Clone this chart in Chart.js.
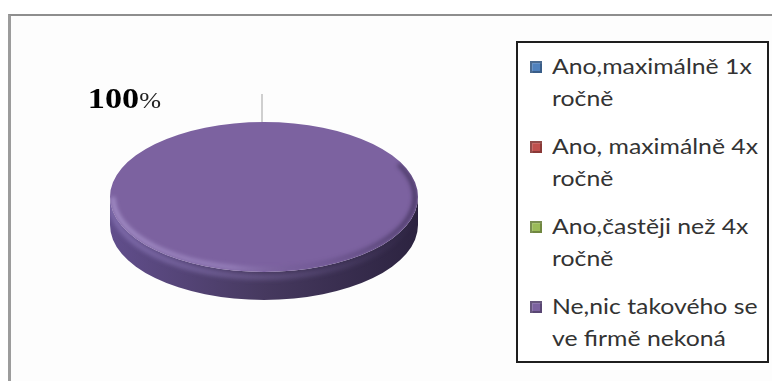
<!DOCTYPE html>
<html>
<head>
<meta charset="utf-8">
<script src="https://cdn.jsdelivr.net/npm/chart.js@4/dist/chart.umd.min.js"></script>
<style>
  html, body { margin: 0; padding: 0; background: #ffffff; }
  #wrap { position: relative; width: 772px; height: 381px; overflow: hidden; }
  #frame {
    position: absolute; left: 8px; top: 14px; right: -10px; bottom: -10px;
    border-left: 3px solid #9c9c9c; border-top: 2px solid #8e8e8e;
    background: #fdfdfd;
  }
  #chart { position: absolute; left: 0; top: 0; }
  #legend {
    position: absolute; left: 516px; top: 41px; width: 249px; height: 318px;
    border: 2px solid #1e1e1e; background: #ffffff;
    font-family: Lato, "Open Sans", sans-serif; font-size: 21px; color: #333333;
  }
  .item { position: absolute; left: 0; width: 249px; }
  .swatch {
    position: absolute; left: 12px; top: 18px; width: 12px; height: 12px;
    box-sizing: border-box;
  }
  .label {
    position: absolute; left: 34px; top: 7px; width: 178px; line-height: 32px;
    transform: scaleX(1.18); transform-origin: 0 0;
  }
</style>
</head>
<body>
<div id="wrap">
  <div id="frame"></div>
  <canvas id="chart" width="772" height="381"></canvas>
  <div id="legend"></div>
</div>
<script>
// Survey answers and their shares (percent)
const categories = [
  'Ano,maximálně 1x ročně',
  'Ano, maximálně 4x ročně',
  'Ano,častěji než 4x ročně',
  'Ne,nic takového se ve firmě nekoná'
];
const shares = [0, 0, 0, 100];
const sliceColors = ['#4f81bd', '#c0504d', '#9bbb59', '#7c62a0'];
const sideColors = [
  ['#3d6591', '#2a4563', '#1d3147'],
  ['#933b39', '#6a2a29', '#4a1d1d'],
  ['#779045', '#566831', '#3c4922'],
  ['#614e8c', '#46395f', '#2c2340']
];

// Perspective of the tilted disc
const TILT = 0.487;     // vertical squash of the top face
const DEPTH = 28;       // thickness of the disc in px
const CENTER = { x: 264, y: 197 };

// Legend box (HTML)
const legendEl = document.getElementById('legend');
categories.forEach((name, i) => {
  const item = document.createElement('div');
  item.className = 'item';
  item.style.top = (80 * i) + 'px';
  const sw = document.createElement('div');
  sw.className = 'swatch';
  sw.style.background = sliceColors[i];
  sw.style.boxShadow = 'inset 0 0 0 2px rgba(0,0,0,0.28), inset 2px 2px 0 1px rgba(255,255,255,0.15)';
  const lb = document.createElement('div');
  lb.className = 'label';
  lb.textContent = name;
  item.appendChild(sw);
  item.appendChild(lb);
  legendEl.appendChild(item);
});

function visibleSide(start, end) {
  // part of [start,end] that lies on the front (angles 0..PI, modulo 2PI)
  const spans = [];
  for (let k = -1; k <= 1; k++) {
    const a = Math.max(start, k * 2 * Math.PI);
    const b = Math.min(end, k * 2 * Math.PI + Math.PI);
    if (b > a) spans.push([a, b]);
  }
  return spans;
}

const tiltPlugin = {
  id: 'tilt',
  beforeDatasetsDraw(chart) {
    const ctx = chart.ctx;
    const meta = chart.getDatasetMeta(0);
    meta.data.forEach((arc, i) => {
      const p = arc.getProps(['x', 'y', 'startAngle', 'endAngle', 'outerRadius']);
      if (p.endAngle - p.startAngle <= 0) return;
      const R = p.outerRadius, ry = R * TILT;
      const g = ctx.createLinearGradient(CENTER.x - R, 0, CENTER.x + R, 0);
      g.addColorStop(0, sideColors[i][0]);
      g.addColorStop(0.5, sideColors[i][1]);
      g.addColorStop(1, sideColors[i][2]);
      visibleSide(p.startAngle, p.endAngle).forEach(([a, b]) => {
        ctx.save();
        ctx.beginPath();
        ctx.ellipse(CENTER.x, CENTER.y, R, ry, 0, a, b, false);
        ctx.ellipse(CENTER.x, CENTER.y + DEPTH, R, ry, 0, b, a, true);
        ctx.closePath();
        ctx.fillStyle = g;
        ctx.fill();
        ctx.clip();
        // soft light band just below the rim
        const hl = ctx.createLinearGradient(CENTER.x - R, 0, CENTER.x + R, 0);
        hl.addColorStop(0, 'rgba(150,130,195,0.55)');
        hl.addColorStop(0.45, 'rgba(150,130,195,0.35)');
        hl.addColorStop(1, 'rgba(150,130,195,0)');
        ctx.filter = 'blur(2px)';
        ctx.beginPath();
        ctx.ellipse(CENTER.x, CENTER.y + 5, R - 1, ry, 0, a, b, false);
        ctx.strokeStyle = hl;
        ctx.lineWidth = 6;
        ctx.stroke();
        ctx.restore();
      });
    });
    // squash the top face into an ellipse
    const first = meta.data[0];
    ctx.save();
    ctx.translate(CENTER.x, CENTER.y);
    ctx.scale(1, TILT);
    ctx.translate(-first.x, -first.y);
  },
  afterDatasetsDraw(chart) {
    const ctx = chart.ctx;
    ctx.restore();
    const meta = chart.getDatasetMeta(0);
    const data = chart.data.datasets[0].data;
    const total = data.reduce((s, v) => s + v, 0);
    meta.data.forEach((arc, i) => {
      const p = arc.getProps(['startAngle', 'endAngle', 'outerRadius']);
      const span = p.endAngle - p.startAngle;
      if (span <= 0) return;
      const R = p.outerRadius, ry = R * TILT;
      // bevel along the front edge of the top face
      ctx.save();
      ctx.beginPath();
      ctx.ellipse(CENTER.x, CENTER.y, R, ry, 0, 0, 2 * Math.PI);
      ctx.clip();
      const rim = ctx.createLinearGradient(CENTER.x - R, 0, CENTER.x + R, 0);
      rim.addColorStop(0, 'rgba(205,190,240,0.55)');
      rim.addColorStop(0.4, 'rgba(205,190,240,0.35)');
      rim.addColorStop(0.65, 'rgba(60,45,90,0.15)');
      rim.addColorStop(1, 'rgba(30,20,50,0.6)');
      ctx.filter = 'blur(2px)';
      ctx.beginPath();
      ctx.ellipse(CENTER.x, CENTER.y, R - 3, ry - 3, 0, -Math.PI * 0.15, Math.PI * 1.0, false);
      ctx.strokeStyle = rim;
      ctx.lineWidth = 4;
      ctx.stroke();
      ctx.restore();

      // percentage label with leader line
      const ang = span >= 2 * Math.PI - 1e-6 ? p.startAngle : (p.startAngle + p.endAngle) / 2;
      const ax = CENTER.x + R * Math.cos(ang) - 2;
      const ay = CENTER.y + ry * Math.sin(ang);
      ctx.save();
      ctx.strokeStyle = '#cfcfcf';
      ctx.lineWidth = 2;
      ctx.beginPath();
      ctx.moveTo(ax, ay);
      ctx.lineTo(ax, ay - 28);
      ctx.stroke();
      const pct = Math.round(data[i] / total * 100);
      const num = String(pct);
      const sx = 1.14;
      ctx.font = 'bold 30px "Liberation Serif", serif';
      const wNum = ctx.measureText(num).width * sx;
      ctx.font = '23px "Liberation Serif", serif';
      const wPct = ctx.measureText('%').width * sx;
      const right = ax - 101;
      ctx.textBaseline = 'alphabetic';
      ctx.textAlign = 'left';
      ctx.translate(right - wPct - wNum, ay - 14);
      ctx.scale(sx, 1);
      ctx.fillStyle = '#000000';
      ctx.font = 'bold 30px "Liberation Serif", serif';
      ctx.fillText(num, 0, 0);
      ctx.fillStyle = '#222222';
      ctx.font = '23px "Liberation Serif", serif';
      ctx.fillText('%', wNum / sx, 0);
      ctx.restore();
    });
  }
};

new Chart(document.getElementById('chart'), {
  type: 'pie',
  data: {
    labels: categories,
    datasets: [{
      data: shares,
      backgroundColor: sliceColors,
      borderWidth: 0
    }]
  },
  options: {
    responsive: false,
    animation: false,
    layout: { padding: { left: 110, right: 354, top: 36, bottom: 37 } },
    plugins: {
      legend: { display: false },
      tooltip: { enabled: false }
    }
  },
  plugins: [tiltPlugin]
});
</script>
</body>
</html>
